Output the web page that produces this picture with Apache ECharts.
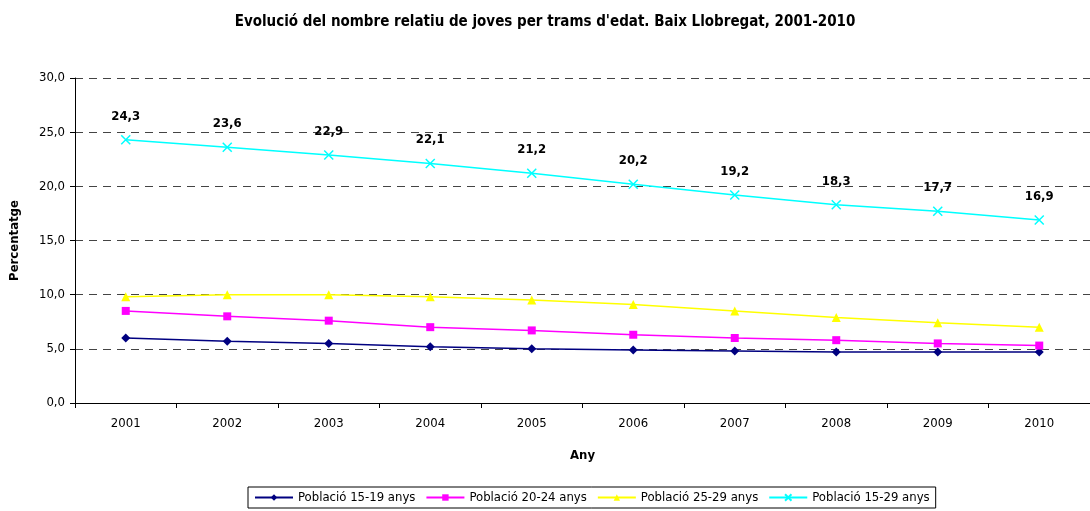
<!DOCTYPE html>
<html>
<head>
<meta charset="utf-8">
<script src="https://cdn.jsdelivr.net/npm/echarts@6/dist/echarts.min.js"></script>
<style>
  html, body { margin: 0; padding: 0; background: #fff; }
  #main { width: 1090px; height: 511px; }
</style>
</head>
<body>
<div id="main"></div>
<script>
var anys = ['2001','2002','2003','2004','2005','2006','2007','2008','2009','2010'];
var pob1519 = [6.0, 5.7, 5.5, 5.2, 5.0, 4.9, 4.8, 4.7, 4.7, 4.7];
var pob2024 = [8.5, 8.0, 7.6, 7.0, 6.7, 6.3, 6.0, 5.8, 5.5, 5.3];
var pob2529 = [9.8, 10.0, 10.0, 9.8, 9.5, 9.1, 8.5, 7.9, 7.4, 7.0];
var pob1529 = [24.3, 23.6, 22.9, 22.1, 21.2, 20.2, 19.2, 18.3, 17.7, 16.9];

var font = '"DejaVu Sans Condensed", "Liberation Sans Narrow", "Liberation Sans", sans-serif';
var coma = function (v) { return v.toFixed(1).replace('.', ','); };

var myChart = echarts.init(document.getElementById('main'));
var option = {
    animation: false,
    textStyle: { fontFamily: font, color: '#000' },
    title: {
        text: "Evolució del nombre relatiu de joves per trams d'edat. Baix Llobregat, 2001-2010",
        left: 'center',
        top: 10,
        textStyle: { fontFamily: font, fontSize: 15, fontWeight: 'bold', color: '#000' }
    },
    legend: {
        bottom: 3,
        left: 248,
        itemWidth: 38,
        itemHeight: 8,
        itemGap: 10,
        padding: [4, 6],
        borderColor: '#000',
        borderWidth: 1,
        textStyle: { fontFamily: font, fontSize: 13, color: '#000' },
        data: ['Població 15-19 anys', 'Població 20-24 anys', 'Població 25-29 anys', 'Població 15-29 anys']
    },
    grid: { left: 75, top: 78, width: 1021, height: 325 },
    xAxis: {
        type: 'category',
        data: anys,
        boundaryGap: true,
        name: 'Any',
        nameLocation: 'middle',
        nameGap: 46,
        nameTextStyle: { fontFamily: font, fontSize: 13, fontWeight: 'bold', color: '#000' },
        axisLine: { lineStyle: { color: '#000', width: 1 } },
        axisTick: { show: true, length: 5, lineStyle: { color: '#000' } },
        axisLabel: { fontFamily: font, fontSize: 13, color: '#000', margin: 14 }
    },
    yAxis: {
        type: 'value',
        min: 0,
        max: 30,
        interval: 5,
        name: 'Percentatge',
        nameLocation: 'middle',
        nameGap: 54,
        nameTextStyle: { fontFamily: font, fontSize: 13, fontWeight: 'bold', color: '#000' },
        axisLine: { show: true, lineStyle: { color: '#000', width: 1 } },
        axisTick: { show: true, length: 5, inside: false, lineStyle: { color: '#000' } },
        axisLabel: { fontFamily: font, fontSize: 13, color: '#000', margin: 10, formatter: coma },
        splitLine: { lineStyle: { color: '#444', type: [8, 6], width: 1 } }
    },
    series: [
        {
            name: 'Població 15-19 anys',
            type: 'line',
            data: pob1519,
            symbol: 'diamond',
            symbolSize: 9,
            itemStyle: { color: '#000080' },
            lineStyle: { color: '#000080', width: 1.5 }
        },
        {
            name: 'Població 20-24 anys',
            type: 'line',
            data: pob2024,
            symbol: 'rect',
            symbolSize: 8,
            itemStyle: { color: '#ff00ff' },
            lineStyle: { color: '#ff00ff', width: 1.5 }
        },
        {
            name: 'Població 25-29 anys',
            type: 'line',
            data: pob2529,
            symbol: 'triangle',
            symbolSize: 9,
            itemStyle: { color: '#ffff00' },
            lineStyle: { color: '#ffff00', width: 1.5 }
        },
        {
            name: 'Població 15-29 anys',
            type: 'line',
            data: pob1529,
            symbol: 'path://M0,0 L10,10 M10,0 L0,10',
            symbolSize: 9,
            itemStyle: { color: 'none', borderColor: '#00ffff', borderWidth: 1.5 },
            lineStyle: { color: '#00ffff', width: 1.5 },
            label: {
                show: true,
                position: 'top',
                distance: 10,
                fontFamily: font,
                fontSize: 13,
                fontWeight: 'bold',
                color: '#000',
                formatter: function (p) { return coma(p.value); }
            }
        }
    ]
};
myChart.setOption(option);
</script>
</body>
</html>
